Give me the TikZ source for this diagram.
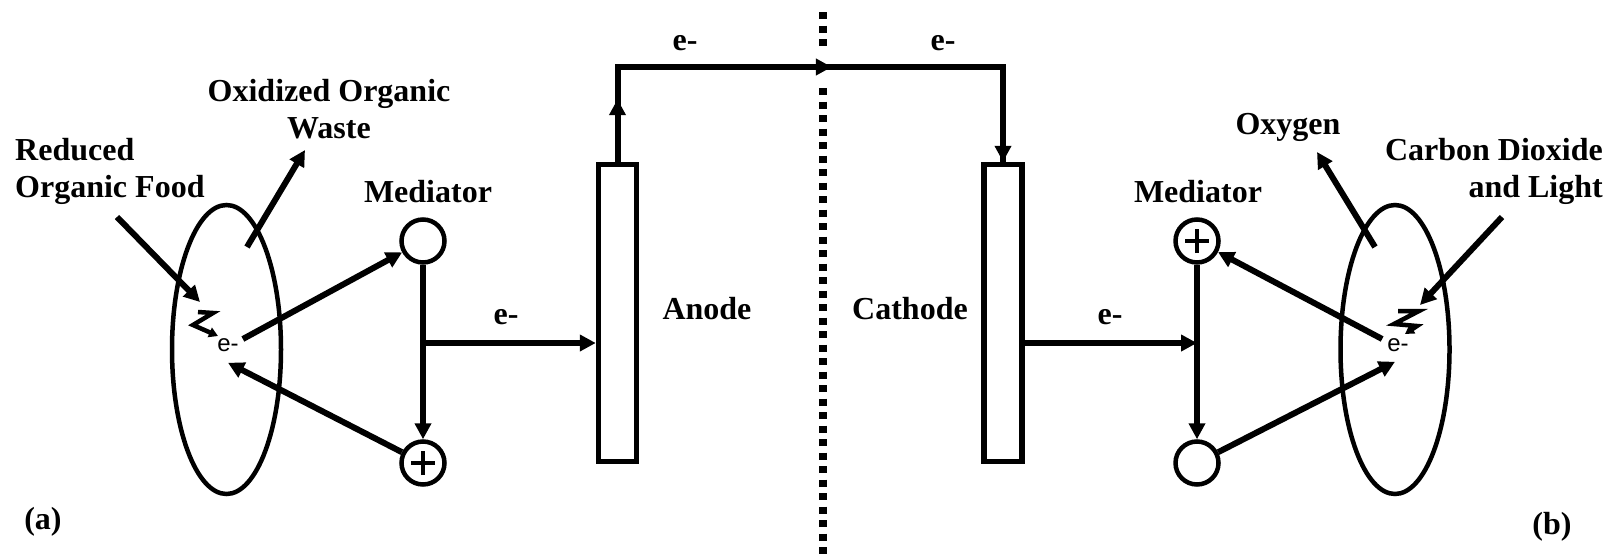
\documentclass[tikz,border=0pt]{standalone}
\usepackage{fontspec}
\setmainfont{Liberation Serif}
\newfontfamily\esans{Liberation Sans}
\usepackage{tikz}
\usetikzlibrary{arrows.meta,positioning,shapes.geometric,calc}

\begin{document}
\begin{tikzpicture}[x=1pt,y=-1pt,
  lbl/.style={font=\bfseries\fontsize{32}{37}\selectfont,inner sep=0},
  el/.style={font=\esans\fontsize{24}{28}\selectfont,inner sep=0},
  wire/.style={line width=6pt},
  arrow/.style={wire,-{Triangle[length=16pt,width=16pt]}},
  cell/.style={ellipse,draw,line width=4.5pt,minimum width=109pt,minimum height=289pt,inner sep=0},
  med/.style={circle,draw,line width=4.5pt,minimum size=43pt,inner sep=0},
  medplus/.style={med,path picture={
      \draw[line width=4.5pt] ([xshift=-12pt]path picture bounding box.center) -- ([xshift=12pt]path picture bounding box.center);
      \draw[line width=4.5pt] ([yshift=-12pt]path picture bounding box.center) -- ([yshift=12pt]path picture bounding box.center);}},
  elec/.style={draw,line width=5.5pt,minimum width=38pt,minimum height=297pt,inner sep=0},
  membrane/.style={line width=8pt,dash pattern=on 7pt off 6.5pt},
  bolt/.style={line width=4.5pt,-{Triangle[length=9pt,width=10pt]}}
]
  \useasboundingbox (0,0) rectangle (1614,557);

  % anode side (a)
  \node[cell] (cellA) at (226.5,349.5) {};
  \node[el] (eA) at (228,345) {e-};
  \node[med] (medA1) at (423,241) {};
  \node[medplus] (medA2) at (423,463) {};
  \node[lbl] (medAlbl) at (428,192) {Mediator};
  \node[elec] (anode) at (617.5,313) {};
  \node[lbl] (anodelbl) at (707,309) {Anode};
  \node[lbl,align=left,anchor=west] (food) at (15,171) {Reduced\\Organic Food};
  \node[lbl,align=center] (waste) at (329,109.5) {Oxidized Organic\\Waste};
  \node[lbl] (tagA) at (43,522) {(a)};
  \node[lbl] (eMidA) at (506,317) {e-};
  \node[lbl] (eTopA) at (685,43) {e-};

  % cathode side (b)
  \node[cell] (cellC) at (1395,349.5) {};
  \node[el] (eC) at (1398,345) {e-};
  \node[medplus] (medC1) at (1197,241) {};
  \node[med] (medC2) at (1197,463) {};
  \node[lbl] (medClbl) at (1198,192) {Mediator};
  \node[elec] (cathode) at (1003,313) {};
  \node[lbl] (cathodelbl) at (910,309) {Cathode};
  \node[lbl] (oxy) at (1288,127.5) {Oxygen};
  \node[lbl,align=right,anchor=east] (co2) at (1603,171) {Carbon Dioxide\\and Light};
  \node[lbl] (tagB) at (1552,527) {(b)};
  \node[lbl] (eMidC) at (1110,317) {e-};
  \node[lbl] (eTopC) at (943,43) {e-};

  \coordinate (jA) at (423,343);
  \coordinate (jC) at (1197,343);
  \coordinate (upA) at (617.5,67);
  \coordinate (upC) at (1003,67);
  \coordinate (foodIn) at (117,217);
  \coordinate (foodTip) at (200,302);
  \coordinate (wasteOut) at (247,247);
  \coordinate (wasteTip) at (305,150);
  \coordinate (oxyOut) at (1375,247);
  \coordinate (oxyTip) at (1317,152);
  \coordinate (co2In) at (1502,217);
  \coordinate (co2Tip) at (1420,305);

  % membrane
  \draw[membrane] (823,12) -- (823,50);
  \draw[membrane] (823,88) -- (823,557);

  % outer circuit
  \draw[wire] (anode.north) -- (upA) -- (upC) -- (cathode.north);
  \draw[arrow] (anode.north) -- ($(anode.north)!0.66!(upA)$);
  \draw[arrow] (upA) -- ($(upA)!0.556!(upC)$);
  \draw[arrow] (upC) -- (cathode.north);

  % mediator loops
  \draw[arrow] (medA1) -- (medA2);
  \draw[arrow] (jA) -- (anode.west |- jA);
  \draw[arrow] ([xshift=4pt,yshift=6pt]eA.east) -- (medA1);
  \draw[arrow] (medA2) -- ([yshift=-11pt]eA.south);
  \draw[arrow] (medC1) -- (medC2);
  \draw[arrow] (cathode.east |- jC) -- (jC);
  \draw[arrow] ([xshift=-5pt,yshift=6pt]eC.west) -- (medC1);
  \draw[arrow] (medC2) -- ([xshift=-3pt,yshift=-10pt]eC.south);

  % inputs and outputs
  \draw[arrow] (foodIn) -- (foodTip);
  \draw[arrow] (wasteOut) -- (wasteTip);
  \draw[arrow] (oxyOut) -- (oxyTip);
  \draw[arrow] (co2In) -- (co2Tip);

  % bolts
  \draw[bolt] (198,312) -- (213,313) -- (193,325) -- (218,336);
  \draw[bolt] (1398,311) -- (1419,311) -- (1394,324) -- (1417,326) -- (1405,334);
\end{tikzpicture}
\end{document}
